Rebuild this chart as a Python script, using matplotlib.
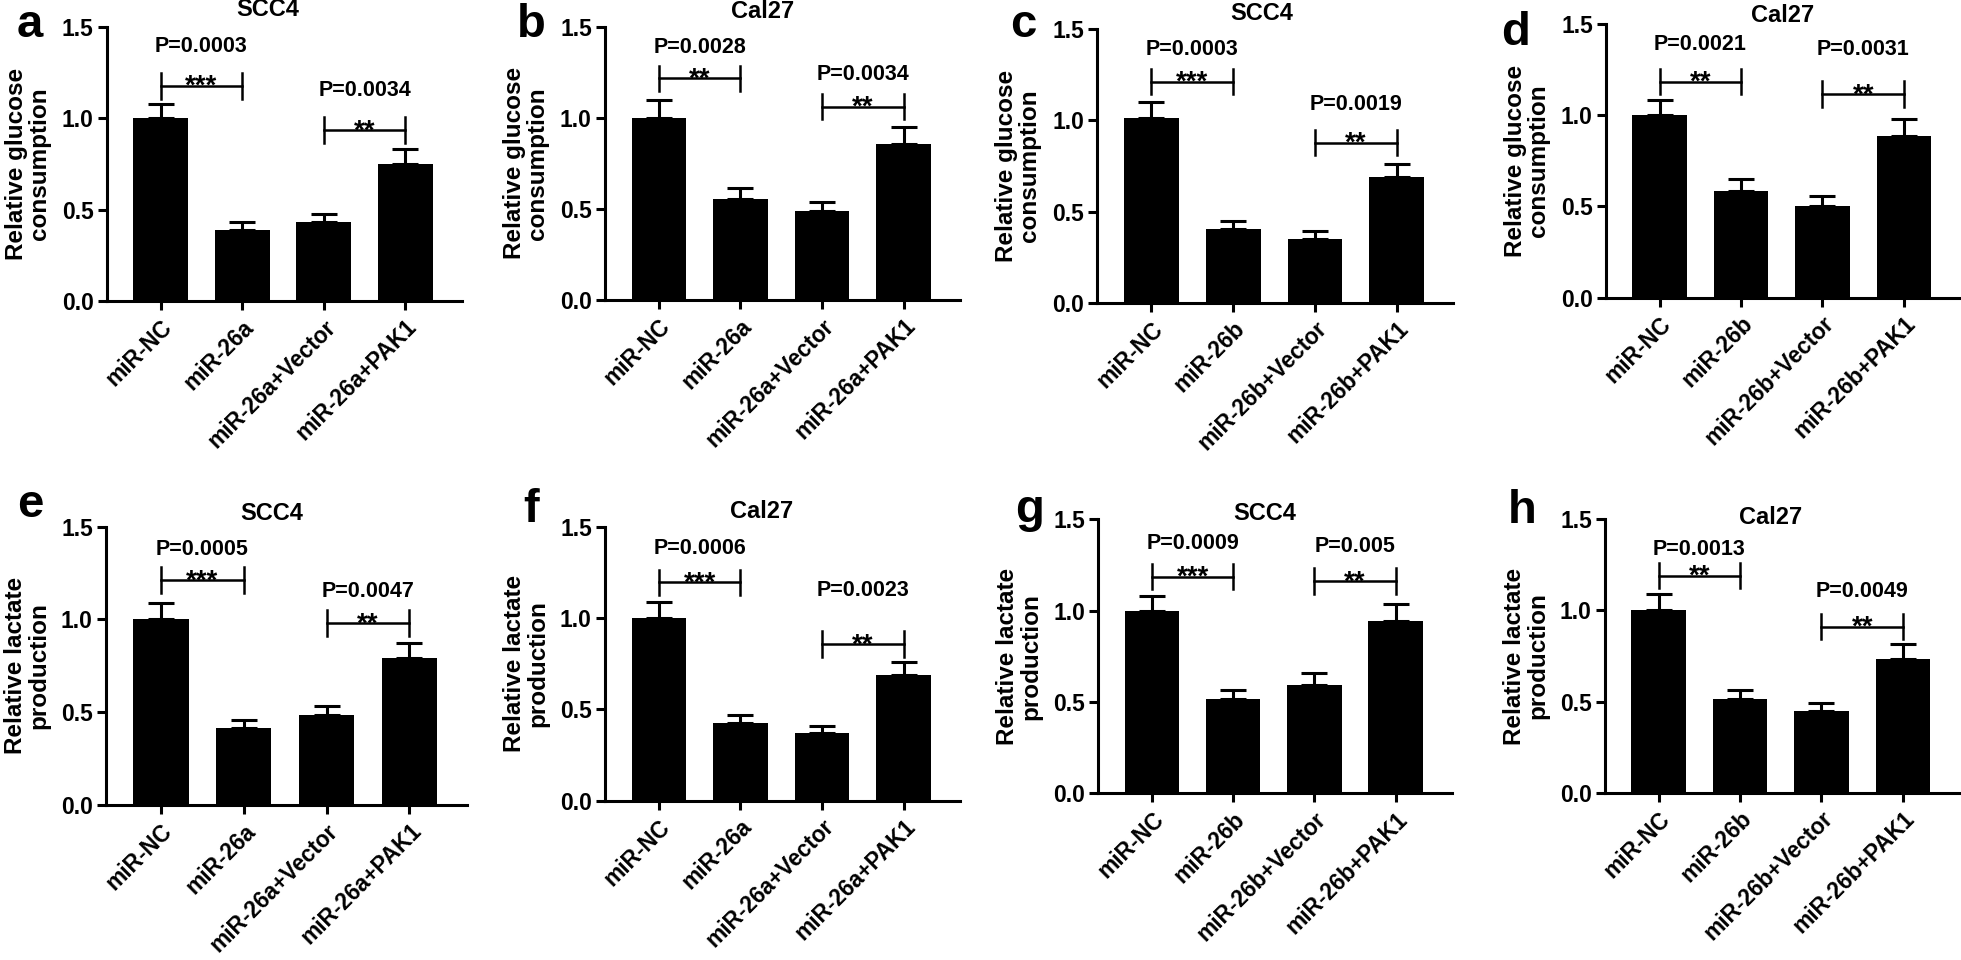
import numpy as np
import matplotlib
matplotlib.use("Agg")
import matplotlib.pyplot as plt

plt.rcParams['font.family'] = ['Liberation Sans', 'DejaVu Sans']
plt.rcParams['font.weight'] = 'bold'

W, H = 1961, 960

# ---------------- data ----------------
grupos_a = ["miR-NC", "miR-26a", "miR-26a+Vector", "miR-26a+PAK1"]
grupos_b = ["miR-NC", "miR-26b", "miR-26b+Vector", "miR-26b+PAK1"]

glc_scc4_26a = [1.00, 0.39, 0.43, 0.75]
glc_scc4_26a_err = [0.08, 0.04, 0.045, 0.08]
glc_cal27_26a = [1.00, 0.555, 0.49, 0.855]
glc_cal27_26a_err = [0.10, 0.057, 0.05, 0.093]
glc_scc4_26b = [1.015, 0.405, 0.35, 0.69]
glc_scc4_26b_err = [0.085, 0.045, 0.043, 0.073]
glc_cal27_26b = [1.00, 0.585, 0.505, 0.885]
glc_cal27_26b_err = [0.085, 0.063, 0.053, 0.095]

lac_scc4_26a = [1.00, 0.415, 0.485, 0.795]
lac_scc4_26a_err = [0.09, 0.045, 0.05, 0.08]
lac_cal27_26a = [1.00, 0.425, 0.37, 0.69]
lac_cal27_26a_err = [0.09, 0.045, 0.04, 0.07]
lac_scc4_26b = [1.00, 0.515, 0.595, 0.945]
lac_scc4_26b_err = [0.08, 0.053, 0.064, 0.092]
lac_cal27_26b = [1.00, 0.515, 0.45, 0.735]
lac_cal27_26b_err = [0.09, 0.05, 0.04, 0.082]

p_textos = [
    ("P=0.0003", "P=0.0034"), ("P=0.0028", "P=0.0034"),
    ("P=0.0003", "P=0.0019"), ("P=0.0021", "P=0.0031"),
    ("P=0.0005", "P=0.0047"), ("P=0.0006", "P=0.0023"),
    ("P=0.0009", "P=0.005"), ("P=0.0013", "P=0.0049"),
]
estrelas = [
    ("***", "**"), ("**", "**"), ("***", "**"), ("**", "**"),
    ("***", "**"), ("***", "**"), ("***", "**"), ("**", "**"),
]

letras = ["a", "b", "c", "d", "e", "f", "g", "h"]
titulos = ["SCC4", "Cal27", "SCC4", "Cal27", "SCC4", "Cal27", "SCC4", "Cal27"]
ylabels = ["Relative glucose\nconsumption"] * 4 + ["Relative lactate\nproduction"] * 4

paineis = [
    (grupos_a, glc_scc4_26a, glc_scc4_26a_err),
    (grupos_a, glc_cal27_26a, glc_cal27_26a_err),
    (grupos_b, glc_scc4_26b, glc_scc4_26b_err),
    (grupos_b, glc_cal27_26b, glc_cal27_26b_err),
    (grupos_a, lac_scc4_26a, lac_scc4_26a_err),
    (grupos_a, lac_cal27_26a, lac_cal27_26a_err),
    (grupos_b, lac_scc4_26b, lac_scc4_26b_err),
    (grupos_b, lac_cal27_26b, lac_cal27_26b_err),
]

# ---------------- layout (pixels) ----------------
# left, right, top (y=1.5), bottom (y=0)
caixas = [
    (106.7, 461.7, 26.7, 301), (605, 960, 26.7, 300),
    (1097.3, 1453.3, 29.3, 302.7), (1606, 1960, 24, 297.7),
    (106, 466.7, 526.7, 805), (605, 960, 526.7, 800.7),
    (1098.3, 1451.7, 519.3, 793.3), (1605, 1959, 519.3, 792.7),
]
# altura da linha do colchete e do texto P (unidades de dados)
colchete_y = [
    (1.177, 0.935), (1.216, 1.061), (1.213, 0.878), (1.184, 1.115),
    (1.212, 0.979), (1.195, 0.858), (1.186, 1.162), (1.191, 0.911),
]
p_y = [
    (1.39, 1.153), (1.385, 1.24), (1.39, 1.09), (1.385, 1.361),
    (1.378, 1.15), (1.381, 1.148), (1.369, 1.35), (1.335, 1.103),
]
titulo_pos = [(268, 10), (763, 12), (1262, 13), (1783, 15),
              (272, 513), (762, 512), (1265, 513), (1771, 518)]
letra_pos = [(17, 37), (517, 37), (1010, 37), (1501, 45),
             (17, 517), (523, 522), (1015, 522), (1508, 523)]

fig = plt.figure(figsize=(W / 100, H / 100), dpi=100)

for i, (grupos, medias, erros) in enumerate(paineis):
    l, r, t, b = caixas[i]
    ax = fig.add_axes([l / W, 1 - b / H, (r - l) / W, (b - t) / H])
    x = np.arange(len(grupos))
    ax.bar(x, medias, width=0.67, color='black', zorder=2)
    ax.errorbar(x, medias, yerr=[np.zeros(len(erros)), erros], fmt='none',
                ecolor='black', elinewidth=2.2, capsize=9.5, capthick=2.2, zorder=1)

    ax.set_xlim(-0.66, 3.69)
    ax.set_ylim(0, 1.5)
    ax.set_yticks([0, 0.5, 1.0, 1.5])
    ax.set_yticklabels(["0.0", "0.5", "1.0", "1.5"])
    ax.set_xticks(x)
    ax.set_xticklabels(grupos, rotation=45, ha='right', rotation_mode='anchor')

    for s in ['top', 'right']:
        ax.spines[s].set_visible(False)
    for s in ['left', 'bottom']:
        ax.spines[s].set_linewidth(2.2)
    ax.tick_params(axis='both', width=2.2, length=6.5)
    ax.tick_params(axis='x', pad=4, labelsize=16.3)
    ax.tick_params(axis='y', pad=3, labelsize=16.5)

    ax.set_ylabel(ylabels[i], fontsize=17.5, fontweight='bold', linespacing=1.0)
    ax.yaxis.set_label_coords(-56 / (r - l), 0.5)

    # colchetes de significancia
    for k, (x0, x1) in enumerate([(0, 1), (2, 3)]):
        yl = colchete_y[i][k]
        ax.plot([x0, x1], [yl, yl], color='black', lw=1.8, clip_on=False)
        for xx in (x0, x1):
            ax.plot([xx, xx], [yl - 0.07, yl + 0.07], color='black', lw=1.8, clip_on=False)
        ax.text((x0 + x1) / 2, yl - 0.045, estrelas[i][k], ha='center', va='baseline',
                fontsize=20, fontweight='bold')
        ax.text((x0 + x1) / 2, p_y[i][k], p_textos[i][k], ha='center', va='center',
                fontsize=15.5, fontweight='bold')

    tx, ty = titulo_pos[i]
    fig.text(tx / W, 1 - ty / H, titulos[i], ha='center', va='center',
             fontsize=17, fontweight='bold')
    lx, ly = letra_pos[i]
    fig.text(lx / W, 1 - ly / H, letras[i], ha='left', va='baseline',
             fontsize=34, fontweight='bold')

fig.savefig("out.png", dpi=100)
